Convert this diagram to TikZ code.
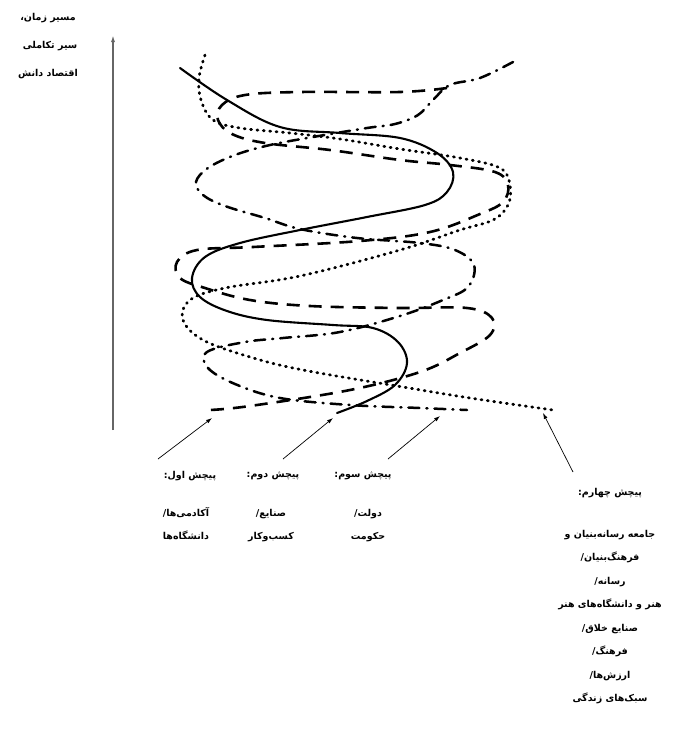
\documentclass[tikz,border=0pt]{standalone}
\usepackage{fontspec}
\newfontfamily\fa[Script=Arabic, BoldFont={DejaVu Sans Bold}]{DejaVu Sans}
\TeXXeTstate=1
\usetikzlibrary{arrows.meta}
\tikzset{
  strand/.style={line width=2.4pt, black, line cap=round},
  solidstrand/.style={strand, line width=2.1pt},
  dottedstrand/.style={strand, dash pattern=on 1pt off 5.4pt, line width=2.8pt},
  dashedstrand/.style={strand, line cap=butt, line width=2.6pt, dash pattern=on 13pt off 9pt},
  dashdotstrand/.style={strand, line width=2.5pt, dash pattern=on 11pt off 7pt on 1pt off 7pt},
  pointer/.style={line width=0.7pt, -{Latex[length=6pt,width=4pt]}},
  axisline/.style={line width=1.4pt, black!60, -{Latex[length=7pt,width=4pt]}},
  lbl/.style={font=\fa\bfseries\fontsize{9.5}{23.5}\selectfont, align=center, inner sep=0pt}
}
\begin{document}
\begin{tikzpicture}[x=1pt,y=-1pt]
\useasboundingbox (0,0) rectangle (683,732);
\fill[white] (0,0) rectangle (683,732);

% time axis
\coordinate (ax0) at (113,430);
\coordinate (ax1) at (113,35);
\draw[axisline] (ax0) -- (ax1);

% solid strand
\draw[solidstrand] plot[smooth, tension=0.6] coordinates {
(180,68) (227,100) (280,127) (340,133) (400,138) (437,153) (453,172) (447,192) (425,205)
(367,217) (300,230) (240,243) (205,257) (192,278) (200,297) (227,311) (267,320) (333,325)
(373,328) (398,342) (407,363) (395,385) (367,401) (337,413)};

% dotted strand
\draw[dottedstrand] plot[smooth, tension=0.6] coordinates {
(205,55) (199,78) (201,100) (213,120) (240,128) (290,133) (340,139) (400,149) (460,158)
(500,168) (510,185) (508,205) (493,220) (460,230) (400,250) (300,276) (225,288) (190,300)
(183,320) (203,340) (250,357) (303,370) (403,387) (470,398) (553,410)};

% dashed strand
\draw[dashedstrand] plot[smooth, tension=0.6] coordinates {
(447,88) (400,92) (300,92) (245,95) (222,105) (218,120) (232,134) (265,143) (330,150)
(400,160) (450,165) (495,172) (508,185) (503,202) (480,214) (430,232) (360,241) (253,247)
(197,250) (177,262) (180,278) (205,288) (250,300) (310,306) (400,308) (467,308) (492,318)
(490,335) (460,353) (420,372) (350,390) (250,406) (210,410)};

% dash-dot strand
\draw[dashdotstrand] plot[smooth, tension=0.6] coordinates {
(513,62) (480,78) (450,85) (433,100) (418,115) (395,124) (367,128) (313,137) (270,145)
(235,155) (208,168) (196,182) (203,195) (225,206) (265,218) (300,229) (357,238) (420,243)
(455,250) (474,265) (468,287) (443,300) (400,316) (340,332) (283,338) (245,342) (207,352)
(208,368) (235,384) (280,398) (350,405) (420,408) (467,410)};

% pointers
\coordinate (p1s) at (158,459); \coordinate (p1e) at (212,418);
\coordinate (p2s) at (283,459); \coordinate (p2e) at (333,418);
\coordinate (p3s) at (388,459); \coordinate (p3e) at (440,416);
\coordinate (p4s) at (573,472); \coordinate (p4e) at (543,413);
\draw[pointer] (p1s) -- (p1e);
\draw[pointer] (p2s) -- (p2e);
\draw[pointer] (p3s) -- (p3e);
\draw[pointer] (p4s) -- (p4e);

% axis caption
\node[lbl] (t1) at (48,18) {\beginR مسیر زمان،\endR};
\node[lbl] (t2) at (50,46) {\beginR سیر تکاملی\endR};
\node[lbl] (t3) at (48,74) {\beginR اقتصاد دانش\endR};

% helix labels
\node[lbl] (h1) at (190,476) {\beginR پیچش اول:\endR};
\node[lbl, anchor=north] (h1b) at (186,507) {\beginR آکادمی‌ها/\endR\\ \beginR دانشگاه‌ها\endR};
\node[lbl] (h2) at (273,476) {\beginR پیچش دوم:\endR};
\node[lbl, anchor=north] (h2b) at (271,509) {\beginR صنایع/\endR\\ \beginR کسب‌وکار\endR};
\node[lbl] (h3) at (363,476) {\beginR پیچش سوم:\endR};
\node[lbl, anchor=north] (h3b) at (368,509) {\beginR دولت/\endR\\ \beginR حکومت\endR};
\node[lbl] (h4) at (610,493) {\beginR پیچش چهارم:\endR};
\node[lbl, anchor=north] (h4b) at (610,530) {\beginR جامعه رسانه‌بنیان و\endR\\
\beginR فرهنگ‌بنیان/\endR\\ \beginR رسانه/\endR\\ \beginR هنر و دانشگاه‌های هنر\endR\\
\beginR صنایع خلاق/\endR\\ \beginR فرهنگ/\endR\\ \beginR ارزش‌ها/\endR\\ \beginR سبک‌های زندگی\endR};
\end{tikzpicture}
\end{document}
